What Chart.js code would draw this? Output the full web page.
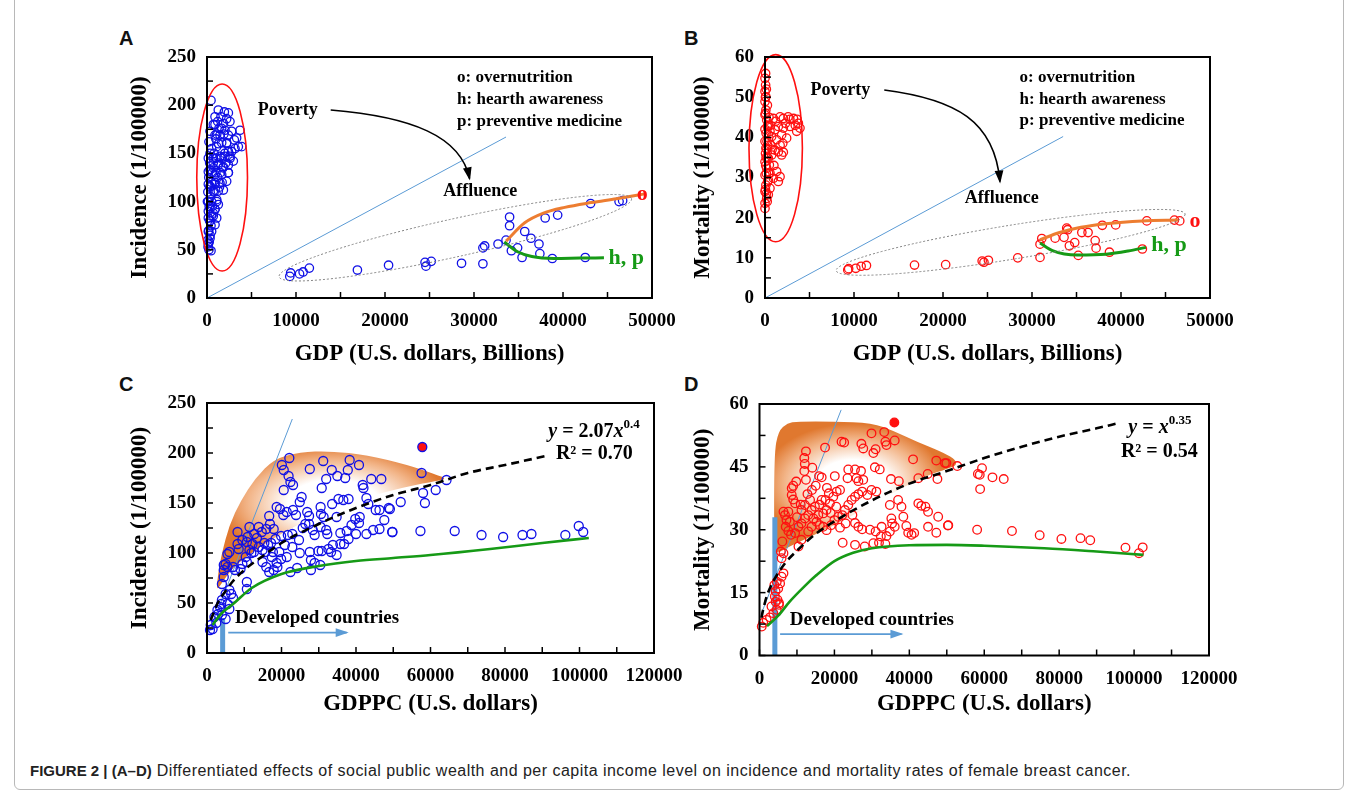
<!DOCTYPE html>
<html lang="en">
<head>
<meta charset="UTF-8">
<title>Figure 2</title>
<script src="https://cdn.jsdelivr.net/npm/chart.js"></script>
<style>
  body { margin: 0; background: #fff; }
  #page { position: relative; width: 1357px; height: 794px; overflow: hidden; background: #fff; }
  .frame { position: absolute; left: 14px; top: -6px; width: 1328px; height: 794px; border: 1px solid #b8b8b8; border-radius: 6px; }
  canvas { position: absolute; }
  .tag { position: absolute; font: bold 20px 'Liberation Sans', Arial, sans-serif; line-height: 20px; color: #111; }
  .caption { position: absolute; left: 30px; top: 762px; font: 16px 'Liberation Sans', Arial, sans-serif; letter-spacing: 0.48px; color: #222; white-space: nowrap; }
  .caption b { font-size: 15px; letter-spacing: 0; }
</style>
</head>
<body>
<div id="page">
  <div class="frame"></div>
  <div class="tag" style="left:119px;top:28px">A</div>
  <div class="tag" style="left:684px;top:28px">B</div>
  <div class="tag" style="left:119px;top:374px">C</div>
  <div class="tag" style="left:684px;top:374px">D</div>
  <canvas id="chartA" width="600" height="340" style="left:95px;top:40px"></canvas>
  <canvas id="chartB" width="600" height="340" style="left:655px;top:40px"></canvas>
  <canvas id="chartC" width="600" height="345" style="left:95px;top:385px"></canvas>
  <canvas id="chartD" width="600" height="345" style="left:655px;top:385px"></canvas>
  <div class="caption"><b>FIGURE 2 | (A–D)</b> Differentiated effects of social public wealth and per capita income level on incidence and mortality rates of female breast cancer.</div>
</div>

<script>
// ---- data: [x, y] ----
// A: GDP (billions) vs incidence
const aPoverty = [
  [450,205],[1270,195],[1950,193],[2400,192],[1570,188],[2210,186],[1200,183],[1840,181],[2580,183],[1350,176],
  [2020,174],[900,169],[1460,169],[2400,169],[3710,174],[3330,166],[3900,157],[3150,155],[2770,152],[2210,161],
  [1650,161],[1090,157],[520,155],[340,150],[710,145],[1460,147],[2020,147],[2580,147],[2960,142],[2400,138],
  [1840,136],[1270,138],[710,135],[340,133],[900,128],[1650,128],[2400,130],[2210,121],[1460,119],[900,118],
  [340,116],[710,111],[1270,111],[1840,112],[1090,102],[520,100],[340,93],[900,92],[1270,97],[710,85],
  [1090,83],[340,80],[900,76],[520,69],[340,62],[150,56],[220,50],[450,49],[150,69],[150,83],
  [150,100],[150,118],[150,131],[150,145],[220,162],[340,173],[710,180],[900,188],[1650,176],[2770,173],
  [3070,164],[3520,157],[2400,152],[100,60],[200,70],[300,80],[150,90],[250,95],[400,105],[350,115],
  [500,120],[600,130],[700,140],[200,125],[100,110],[50,100],[300,140],[800,110],[900,120],[1000,130],
  [1100,100],[600,95],[500,85],[450,75],[350,65],[250,58],[120,53],[800,150],[1000,145],[1200,125],
  [1300,140],[1400,115],[700,88],[900,92],[1500,130],[1600,145],[1700,120],[1800,135],[2000,150],[2200,160],
  [1900,170],[2100,140],[2400,130],[2600,145],[1300,160],[1100,170],[900,180],[1000,165]
];
const aAffluence = [
  [9300,22.4],[9400,26],[10400,25],[10800,27],[11500,31],[16900,29],[20400,34],[24500,37],[24600,33],[25200,38],
  [28600,36],[31000,52],[31200,54],[31000,35.5],[32700,56],[33600,60],[34000,84],[34000,75],[34200,49],[34900,52],
  [35400,42],[35700,69],[36400,62],[37300,56],[37400,46],[38000,83],[38800,41],[39400,86],[42500,42],[43100,98],
  [46300,100],[46700,101]
];
const aOvernutrition = [[33600,59],[35700,78],[37800,88],[40200,94],[43200,99],[46000,103],[49200,108]];
const aAwareness = [[33400,58],[34900,48],[36500,43],[39000,41],[41900,41.4],[44600,41.7]];
const aGuide = [[0,0],[33600,167]];

// B: GDP (billions) vs mortality
const bPoverty = [
  [70,55.9],[0,54.7],[70,53],[0,51.4],[100,50.1],[0,48.9],[270,48],[100,46.8],[0,45.6],[190,44.3],
  [940,44.7],[1690,45.1],[2060,44.7],[2600,45.1],[3200,44.7],[3750,43.5],[3930,42.3],[3560,41.5],[2800,42.7],[2060,42.3],
  [1500,42.7],[1120,41.9],[1870,40.6],[2430,39.8],[1310,39.4],[750,40.2],[560,41.5],[1500,36.4],[2060,36.3],[1870,35.6],
  [1120,36.8],[750,35.6],[370,34.8],[1310,31.5],[1690,30.2],[1500,29],[940,29.8],[560,31.1],[0,39],[100,37.3],
  [0,33.9],[190,32.3],[0,30.6],[100,28.1],[0,26.5],[190,24.8],[0,23.6],[0,22.3],[370,25.7],[560,27.3],
  [370,29.4],[490,33.1],[640,38.1],[370,40.6],[270,42.7],[50,27],[150,31],[250,35],[300,38],[120,41],
  [200,37],[80,33],[300,29],[420,31],[150,26],[250,24],[60,36],[350,43],[450,45],[150,52],
  [50,50],[0,42],[120,35],[220,39],[50,46],[800,37],[1000,33],[2300,43.5],[2800,44.5],[3400,43],
  [3600,44.5],[1700,38],[1200,44],[600,43],[2000,38.5]
];
const bAffluence = [
  [9300,7.0],[9400,7.3],[10200,7.4],[10800,7.9],[11400,8.1],[16800,8.2],[20300,8.3],[24400,9.2],[24600,8.9],[25100,9.4],
  [28400,10.0],[30900,10.1],[30900,13.4],[31100,14.8],[32600,14.9],[33600,15.1],[33900,17.4],[34000,17],[34200,13],[34800,13.8],
  [35200,10.6],[35600,16.3],[36300,16.3],[37100,14.3],[37200,12.4],[37900,18.1],[38700,11.4],[39400,18.2],[42900,19.2],[42400,12.2],
  [46000,19.4],[46600,19.2]
];
const bOvernutrition = [[30900,14.5],[33100,16.3],[35500,17.6],[38300,18.5],[42400,19.2],[46400,19.4]];
const bAwareness = [[30900,13.7],[32300,11.8],[35100,10.7],[38300,10.9],[40800,11.7],[42800,12.6]];
const bGuide = [[0,0],[33500,40.2]];

// C: GDPPC (dollars) vs incidence
const cCountries = [
  [22100,195],[20100,188],[20600,183],[21900,177],[22400,171],[23100,168],[20600,163],[27600,184],[31200,192],[33500,183],
  [32000,174],[35000,177],[37100,175],[38300,193],[37800,183],[40800,188],[41800,168],[42000,165],[44100,174],[46800,174],
  [30800,165],[18700,146],[19600,144],[16700,137],[11400,126],[8200,121],[25400,156],[24900,151],[30500,146],[33600,149],
  [35300,154],[36600,153],[38000,154],[30600,139],[31300,136],[34800,136],[26900,141],[27400,137],[26400,129],[23100,143],
  [23900,138],[21400,141],[20500,138],[39800,134],[41000,136],[40800,130],[42800,155],[43300,149],[45300,143],[46300,143],
  [47600,133],[48800,145],[52000,151],[46300,124],[49800,121],[44600,123],[42800,119],[38800,128],[37500,122],[35800,120],
  [32000,123],[32300,119],[30500,126],[28400,123],[28900,118],[27400,129],[25700,125],[24700,113],[22900,119],[21700,118],
  [19900,117],[18400,114],[17200,110],[20900,108],[22900,106],[24900,100],[27600,101],[29900,102],[30800,102],[32600,104],
  [33300,101],[34800,98],[33800,108],[35800,109],[36800,109],[38000,114],[40000,119],[27900,93],[28900,90],[30400,88],
  [27900,83],[24200,85],[22400,81],[18900,86],[17400,96],[15700,101],[14900,103],[16400,108],[15400,110],[13900,106],
  [12600,101],[11400,103],[11900,100],[10400,96],[10700,91],[9500,89],[9000,84],[10700,71],[10700,64],[8200,109],
  [8500,104],[6000,101],[5500,99],[5000,89],[4500,88],[5500,86],[4500,83],[4500,76],[4000,69],[7000,86],
  [7500,83],[6000,63],[5000,59],[6500,59],[7000,55],[3800,49],[2800,43],[2000,36],[1000,28],[800,23],
  [1500,24],[3000,39],[3500,46],[4000,53],[5500,49],[6000,44],[5000,34],[4000,38],[2500,30],[14900,91],
  [15900,86],[16700,81],[17900,83],[18700,90],[19900,94],[21400,96],[19400,101],[17700,101],[13400,115],[14700,121],
  [15900,124],[16900,129],[17900,124],[13900,126],[12700,119],[10700,111],[9500,113],[10900,116],[12200,109],
  [57600,180],[64300,173],[61400,163],[58000,160],[58500,150],[49100,144],[49700,121],[57300,122],[66500,122],
  [73700,118],[79500,116],[84700,118],[87100,119],[96200,118],[99800,127],[101000,121]
];
const cHighlight = [[57800,206]];
const cTrend = [[1000,33],[3000,51],[5000,62],[7000,72],[10000,83],[15000,97],[20000,110],[30000,129],[40000,145],[50000,158],[60000,168],[70000,180],[80000,188],[91000,197]];
const cFloor = [[1500,28],[4000,40],[7000,49],[12000,65],[20000,79],[30000,87],[40000,92],[50000,95],[60000,98],[76000,104],[90000,110],[102500,115]];
const cGuide = [[500,20],[22900,234]];
const cThreshold = [[4200,0],[4200,35]];

// D: GDPPC (dollars) vs mortality
const dCountries = [
  [29900,53],[33300,53.3],[33600,51],[33900,50.2],[36100,51.3],[21900,51],[22600,50.8],[17500,49.6],[27200,50.5],[27700,49.4],
  [30400,48.3],[31000,49.2],[12400,48.7],[11960,47.1],[12100,45.7],[11960,44],[14100,44.8],[12400,41.9],[15900,42.8],[16600,42.5],
  [20100,42.8],[23700,44.4],[25500,44.4],[27100,44],[27700,41.9],[30800,44.9],[32100,44.4],[23500,42.3],[25900,42.3],[26400,41.6],
  [41000,46.8],[35100,42.1],[37200,41.6],[42400,42.3],[44900,43.3],[47500,42.1],[47200,46.5],[49500,45.9],
  [8600,39.9],[8600,38.3],[9000,37.2],[9500,36.3],[6400,34.3],[6800,33.5],[7700,34.3],[7200,32.3],[8100,31.9],[7000,30.7],
  [7700,29.7],[8400,28.8],[9500,29.2],[10400,30.7],[11200,31.5],[12100,32.7],[13000,33.5],[13900,34.7],[14800,35.5],[14400,32.7],
  [15200,31.9],[16100,31.1],[15700,33.5],[17000,33.9],[17900,34.7],[18800,36.3],[19700,37.9],[20600,39.1],[21500,39.5],[18500,38.7],
  [17600,37.1],[16600,37.1],[13500,37.1],[12100,35.9],[11200,34.7],[13900,30.7],[13000,29.6],[17000,30.7],[17900,29.9],[19100,31.1],
  [20000,32.3],[21000,33.1],[22100,33.5],[22800,34.7],[23700,35.9],[24600,37.1],[25500,37.9],[26400,38.5],[27400,39.1],[28800,38.3],
  [29900,39.5],[31200,39.1],[24800,33.5],[25500,31.6],[26400,30.7],[27400,30.1],[29500,30],[31000,29.6],[32600,30.7],[32400,28.4],
  [31900,26.9],[34800,29.6],[35200,32.7],[35400,31.5],[36100,30.7],[34800,35.9],[37000,37.1],[37900,35.5],[38400,33.1],[39200,30.9],
  [39700,29.3],[40600,28.8],[41300,29.2],[42400,36.3],[43200,35.7],[44300,35.5],[45000,34.3],[47700,33.1],[47200,29.3],[45000,30.7],
  [50400,31.1],[25500,26.4],[28100,26],[22200,26.9],[30400,26.8],[33600,26.6],[33900,28.5],[10400,26],[11200,27.6],[6100,27.2],
  [5700,24.8],[6400,24.4],[5900,23.2],[10000,33],[11000,36],[12800,38.5],[14000,39.5],[15000,40.5],[16000,36],[18000,40],
  [19000,34],[20500,35.5],[21500,30.5],[23000,31.5],[9000,40.5],[9800,41.5],
  [600,6.9],[1000,7.8],[1900,8.5],[2800,9.1],[3700,10.1],[4600,10.9],[5200,12.1],[4800,13.3],[4100,14.1],[4300,15.3],
  [5000,16],[5500,17.2],[5900,18.8],[6400,19.6],[3970,16.8],[4600,17.6],[5200,12.5],[3200,11.7],[4300,12.8],
  [49900,45.9],[52800,45.2],[59400,44.7],[58300,43.3],[58800,43.1],[62200,42.5],[65200,42.1],[58900,39.7],[50300,31],[58100,30],
  [67400,29.7],[74800,28.7],[80600,27.8],[85700,28],[88300,27.5],[97700,25.7],[101300,24.4],[102300,25.8]
];
const dHighlight = [[36000,55.6]];
const dTrend = [[500,9],[1000,11],[2000,14.3],[4000,18.2],[7000,22.2],[10000,25],[15000,29],[20000,32],[30000,37],[40000,41],[50000,44],[60000,47.1],[70000,49.8],[80000,52.2],[90000,54.2],[95700,55.4]];
const dFloor = [[2000,7],[5000,9.5],[8000,12.8],[12000,16.5],[15000,19],[20000,22.5],[25000,24.5],[30000,25.6],[40000,26.3],[50000,26.4],[60000,26.2],[76000,25.6],[90000,24.8],[102500,24]];
const dGuide = [[500,10],[21800,58.6]];
const dThreshold = [[4100,0],[4100,33]];

// ---- styling helpers ----
const serif = "'Liberation Serif', 'Times New Roman', serif";
const BLUE = '#1010e6', RED = '#ff1010', ORANGE = '#ed7d31', GREEN = '#169a16', SKY = '#5b9bd5';

function pts(arr) { return arr.map(p => ({ x: p[0], y: p[1] })); }
function circles(arr, color, r, fill) {
  return { type: 'scatter', data: pts(arr), pointRadius: r, pointBorderWidth: 1.3,
    pointBorderColor: color, pointBackgroundColor: fill || 'transparent', clip: false };
}
function curve(arr, color, width, dash) {
  return { type: 'line', data: pts(arr), borderColor: color, borderWidth: width, borderDash: dash || [],
    pointRadius: 0, cubicInterpolationMode: 'monotone', fill: false, clip: false };
}
// fixed axis boxes so the plot frames land where the original's do
function axisX(max, step, major, title, h) {
  return {
    type: 'linear', min: 0, max: max,
    grid: { display: false, drawTicks: false }, border: { display: false },
    afterFit: s => { s.height = h; s.paddingLeft = 0; s.paddingRight = 0; },
    ticks: { stepSize: step, autoSkip: false, maxRotation: 0, padding: 12, color: '#000',
      font: { family: serif, size: 19, weight: 'bold' },
      callback: v => (v % major === 0 ? String(v) : '') },
    title: { display: true, text: title, color: '#000',
      font: { family: serif, size: 23, weight: 'bold' }, padding: { top: 0, bottom: 12 } }
  };
}
function axisY(max, step, major, title, w, off) {
  return {
    type: 'linear', min: 0, max: max,
    grid: { display: false, drawTicks: false }, border: { display: false },
    afterFit: s => { s.width = w; s.paddingTop = 0; s.paddingBottom = 0; },
    ticks: { stepSize: step, autoSkip: false, padding: 11, color: '#000',
      font: { family: serif, size: 19, weight: 'bold' },
      callback: v => (Math.abs(v % major) < 1e-9 ? String(v) : '') },
    title: { display: true, text: title, color: '#000',
      font: { family: serif, size: 23, weight: 'bold' }, padding: { top: off, bottom: 0 } }
  };
}

// ---- decorations drawn through the chart scales ----
function px(chart, v) { return [chart.scales.x.getPixelForValue(v[0]), chart.scales.y.getPixelForValue(v[1])]; }

function drawRuns(ctx, x, y, runs, align) {
  let total = 0;
  runs.forEach(r => { ctx.font = r.f; total += ctx.measureText(r.t).width; });
  let cx = align === 'right' ? x - total : align === 'center' ? x - total / 2 : x;
  ctx.textBaseline = 'middle';
  ctx.textAlign = 'left';
  runs.forEach(r => {
    ctx.font = r.f;
    ctx.fillStyle = r.c || '#000';
    ctx.fillText(r.t, cx, y + (r.dy || 0));
    cx += ctx.measureText(r.t).width;
  });
}

function smoothPath(ctx, p) {
  const n = p.length;
  const mid = (a, b) => [(a[0] + b[0]) / 2, (a[1] + b[1]) / 2];
  let m = mid(p[n - 1], p[0]);
  ctx.moveTo(m[0], m[1]);
  for (let i = 0; i < n; i++) {
    const nm = mid(p[i], p[(i + 1) % n]);
    ctx.quadraticCurveTo(p[i][0], p[i][1], nm[0], nm[1]);
  }
  ctx.closePath();
}

const decor = {
  id: 'decor',
  beforeDatasetsDraw(chart, args, o) {
    const ctx = chart.ctx;
    (o.blobs || []).forEach(b => {
      const p = b.shape.map(v => px(chart, v));
      const c = px(chart, b.center);
      ctx.save();
      ctx.beginPath();
      smoothPath(ctx, p);
      ctx.clip();
      ctx.translate(c[0], c[1]);
      ctx.scale(b.rx / b.ry, 1);
      const g = ctx.createRadialGradient(0, 0, 0, 0, 0, b.ry);
      g.addColorStop(0, '#ffffff');
      g.addColorStop(0.4, '#ffffff');
      g.addColorStop(0.75, '#f2b487');
      g.addColorStop(1, '#e0782f');
      ctx.fillStyle = g;
      ctx.fillRect(-400, -400, 800, 800);
      ctx.restore();
    });
  },
  afterDatasetsDraw(chart, args, o) {
    const ctx = chart.ctx, ca = chart.chartArea;
    ctx.save();
    (o.ellipses || []).forEach(e => {
      ctx.beginPath();
      if (e.p1) {
        const a = px(chart, e.p1), b = px(chart, e.p2);
        const ang = Math.atan2(b[1] - a[1], b[0] - a[0]);
        const len = Math.hypot(b[0] - a[0], b[1] - a[1]) / 2;
        ctx.ellipse((a[0] + b[0]) / 2, (a[1] + b[1]) / 2, len, e.minor, ang, 0, Math.PI * 2);
      } else {
        const c = px(chart, e.c), r = px(chart, [e.c[0] + e.rx, e.c[1] + e.ry]);
        ctx.ellipse(c[0], c[1], Math.abs(r[0] - c[0]), Math.abs(r[1] - c[1]), 0, 0, Math.PI * 2);
      }
      ctx.setLineDash(e.dash || []);
      ctx.strokeStyle = e.color;
      ctx.lineWidth = e.w;
      ctx.stroke();
    });
    ctx.setLineDash([]);
    (o.arrows || []).forEach(a => {
      const p = a.path.map(v => px(chart, v));
      ctx.beginPath();
      ctx.moveTo(p[0][0], p[0][1]);
      if (p.length === 4) ctx.bezierCurveTo(p[1][0], p[1][1], p[2][0], p[2][1], p[3][0], p[3][1]);
      else ctx.lineTo(p[1][0], p[1][1]);
      ctx.strokeStyle = a.color;
      ctx.lineWidth = a.w;
      ctx.stroke();
      const end = p[p.length - 1], prev = p[p.length - 2];
      const ang = Math.atan2(end[1] - prev[1], end[0] - prev[0]);
      ctx.save();
      ctx.translate(end[0], end[1]);
      ctx.rotate(ang);
      ctx.beginPath();
      ctx.moveTo(2, 0);
      ctx.lineTo(-a.head, -a.head * 0.4);
      ctx.lineTo(-a.head, a.head * 0.4);
      ctx.closePath();
      ctx.fillStyle = a.color;
      ctx.fill();
      ctx.restore();
    });
    (o.texts || []).forEach(t => {
      const p = px(chart, t.at);
      drawRuns(ctx, p[0], p[1], t.runs, t.align);
    });
    // inward tick marks and the plot frame
    ctx.strokeStyle = '#000';
    ctx.lineWidth = 1.5;
    chart.scales.x.ticks.forEach(t => {
      const x = chart.scales.x.getPixelForValue(t.value);
      ctx.beginPath(); ctx.moveTo(x, ca.bottom); ctx.lineTo(x, ca.bottom - 6); ctx.stroke();
    });
    chart.scales.y.ticks.forEach(t => {
      const y = chart.scales.y.getPixelForValue(t.value);
      ctx.beginPath(); ctx.moveTo(ca.left, y); ctx.lineTo(ca.left + 6, y); ctx.stroke();
    });
    ctx.lineWidth = 2;
    ctx.strokeRect(ca.left, ca.top, ca.width, ca.height);
    ctx.restore();
  }
};

function bold(size) { return 'bold ' + size + 'px ' + serif; }
function italic(size) { return 'italic bold ' + size + 'px ' + serif; }

function makeChart(id, datasets, scales, pad, deco) {
  return new Chart(document.getElementById(id), {
    type: 'scatter',
    data: { datasets: datasets },
    options: {
      responsive: false, animation: false,
      layout: { padding: pad },
      scales: scales,
      plugins: { legend: { display: false }, tooltip: { enabled: false }, decor: deco }
    },
    plugins: [decor]
  });
}

const legendLines = (x, y1, y2, y3) => [
  { at: [x, y1], runs: [{ t: 'o: overnutrition', f: bold(17) }] },
  { at: [x, y2], runs: [{ t: 'h: hearth awareness', f: bold(17) }] },
  { at: [x, y3], runs: [{ t: 'p: preventive medicine', f: bold(17) }] }
];

// A
makeChart('chartA', [
  curve(aOvernutrition, ORANGE, 3),
  curve(aAwareness, GREEN, 3),
  circles(aAffluence, BLUE, 4.2),
  circles(aPoverty, BLUE, 4.2),
  curve(aGuide, SKY, 1)
], {
  x: axisX(50000, 5000, 10000, 'GDP (U.S. dollars, Billions)', 82),
  y: axisY(250, 25, 50, 'Incidence (1/100000)', 112, 31)
}, { left: 0, right: 43, top: 17, bottom: 0 }, {
  ellipses: [
    { c: [1700, 125], rx: 2850, ry: 97, color: RED, w: 1.6 },
    { p1: [8100, 22], p2: [47700, 103], minor: 19, color: '#808080', w: 1, dash: [2, 2] }
  ],
  arrows: [{ path: [[13900, 195], [23000, 188], [28500, 168], [29500, 124]], color: '#000', w: 1.6, head: 11 }],
  texts: [
    { at: [5700, 195], runs: [{ t: 'Poverty', f: bold(18) }] },
    { at: [30700, 111], align: 'center', runs: [{ t: 'Affluence', f: bold(18) }] },
    ...legendLines(28100, 229, 206, 183),
    { at: [48300, 108], runs: [{ t: 'o', f: bold(22), c: RED }] },
    { at: [45100, 41.5], runs: [{ t: 'h, p', f: bold(22), c: GREEN }] }
  ]
});

// B
makeChart('chartB', [
  curve(bOvernutrition, ORANGE, 3),
  curve(bAwareness, GREEN, 3),
  circles(bAffluence, RED, 4.2),
  circles(bPoverty, RED, 4.2),
  curve(bGuide, SKY, 1)
], {
  x: axisX(50000, 5000, 10000, 'GDP (U.S. dollars, Billions)', 82),
  y: axisY(60, 5, 10, 'Mortality (1/100000)', 110, 34)
}, { left: 0, right: 45, top: 17, bottom: 0 }, {
  ellipses: [
    { c: [1200, 37.3], rx: 3000, ry: 23.3, color: RED, w: 1.6 },
    { p1: [8000, 6.8], p2: [47200, 20.9], minor: 17, color: '#808080', w: 1, dash: [2, 2] }
  ],
  arrows: [{ path: [[13400, 51.8], [21500, 49.5], [25800, 44], [26400, 29]], color: '#000', w: 1.6, head: 11 }],
  texts: [
    { at: [5100, 51.8], runs: [{ t: 'Poverty', f: bold(18) }] },
    { at: [26600, 24.7], align: 'center', runs: [{ t: 'Affluence', f: bold(18) }] },
    ...legendLines(28600, 54.9, 49.5, 44.1),
    { at: [47700, 19.2], runs: [{ t: 'o', f: bold(22), c: RED }] },
    { at: [43400, 13], runs: [{ t: 'h, p', f: bold(22), c: GREEN }] }
  ]
});

// C
makeChart('chartC', [
  curve(cTrend, '#000', 2.6, [8, 5]),
  curve(cFloor, GREEN, 2.6),
  circles(cHighlight, BLUE, 4.5, RED),
  circles(cCountries, BLUE, 4.5),
  curve(cThreshold, SKY, 5),
  curve(cGuide, SKY, 1)
], {
  x: axisX(120000, 10000, 20000, 'GDPPC (U.S. dollars)', 77),
  y: axisY(250, 25, 50, 'Incidence (1/100000)', 112, 31)
}, { left: 0, right: 41, top: 18, bottom: 0 }, {
  blobs: [{
    shape: [[2500,62],[3000,80],[4000,100],[6000,128],[9000,152],[13000,175],[18000,194],[25000,201],[33000,202],[43000,198],
      [54000,188],[61000,179],[64700,174],[60000,171],[52000,165],[43000,156],[33000,143],[23000,126],[14000,106],[7000,86],[4000,70]],
    center: [34000, 150], rx: 115, ry: 58
  }],
  arrows: [{ path: [[5700, 20.4], [37500, 20.4]], color: SKY, w: 1.6, head: 11 }],
  texts: [
    { at: [7500, 34.5], runs: [{ t: 'Developed countries', f: bold(19) }] },
    { at: [116200, 221], align: 'right', runs: [
      { t: 'y', f: italic(20) }, { t: ' = 2.07', f: bold(20) }, { t: 'x', f: italic(20) }, { t: '0.4', f: bold(13), dy: -7 }] },
    { at: [114300, 198.7], align: 'right', runs: [{ t: 'R² = 0.70', f: bold(20) }] }
  ]
});

// D
makeChart('chartD', [
  curve(dTrend, '#000', 2.6, [8, 5]),
  curve(dFloor, GREEN, 2.6),
  circles(dHighlight, RED, 4.3, RED),
  circles(dCountries, RED, 4.3),
  curve(dThreshold, SKY, 5),
  curve(dGuide, SKY, 1)
], {
  x: axisX(120000, 10000, 20000, 'GDPPC (U.S. dollars)', 74.5),
  y: axisY(60, 7.5, 15, 'Mortality (1/100000)', 104.5, 34)
}, { left: 0, right: 46, top: 19, bottom: 0 }, {
  blobs: [{
    shape: [[3900,25],[3900,48],[5000,53.5],[7500,55.5],[10000,55.8],[20000,55.8],[30000,55.5],[36000,53.5],[42000,51],[48000,48.8],
      [52000,47],[52800,45.5],[50000,44.5],[45000,43],[38000,40],[30000,36],[22000,32],[14000,28.5],[8000,26],[5000,24.5]],
    center: [25000, 41], rx: 92, ry: 60
  }],
  arrows: [{ path: [[5500, 5.1], [37900, 5.1]], color: SKY, w: 1.6, head: 11 }],
  texts: [
    { at: [8100, 8.5], runs: [{ t: 'Developed countries', f: bold(19) }] },
    { at: [115300, 54.3], align: 'right', runs: [
      { t: 'y', f: italic(20) }, { t: ' = ', f: bold(20) }, { t: 'x', f: italic(20) }, { t: '0.35', f: bold(13), dy: -7 }] },
    { at: [117000, 48.6], align: 'right', runs: [{ t: 'R² = 0.54', f: bold(20) }] }
  ]
});
</script>
</body>
</html>
